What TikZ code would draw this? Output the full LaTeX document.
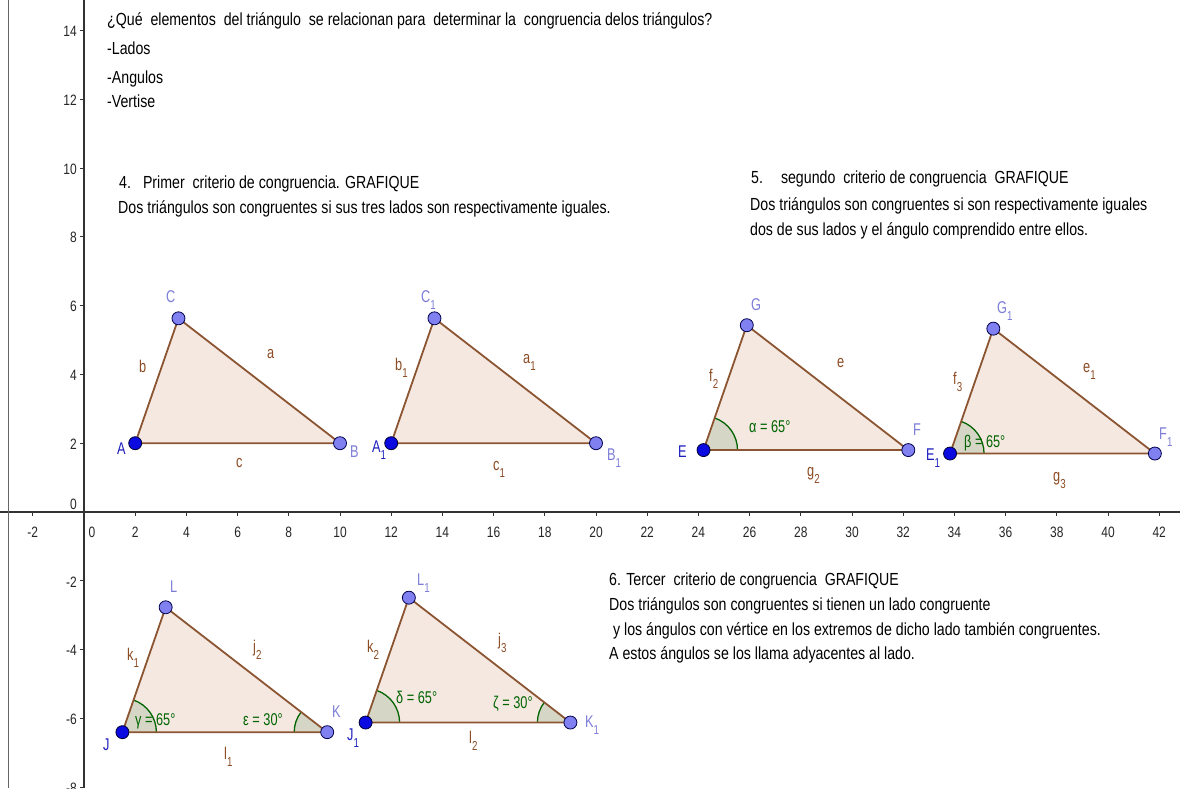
\documentclass[tikz,border=0pt]{standalone}
\usepackage{fontspec}
\setmainfont{Liberation Sans}[FakeStretch=0.81]
\newfontfamily\lblfont{Liberation Sans}[FakeStretch=0.75]
\newfontfamily\axfont{Liberation Sans}[FakeStretch=0.8]
\usetikzlibrary{calc}
\definecolor{edgecol}{RGB}{140,85,50}
\definecolor{tfill}{RGB}{244,232,225}
\definecolor{afill}{RGB}{214,214,198}
\definecolor{agreen}{RGB}{0,100,0}
\definecolor{ptdark}{RGB}{10,10,225}
\definecolor{ptlight}{RGB}{128,128,240}
\definecolor{lbdark}{RGB}{30,30,190}
\definecolor{lblight}{RGB}{125,125,215}
\definecolor{lbside}{RGB}{140,75,35}
\definecolor{axiscol}{RGB}{50,50,50}
\newcommand{\lsub}[1]{\raisebox{-0.42em}{\fontsize{13}{13}\selectfont #1}}
\tikzset{
  txt/.style={anchor=base west,inner sep=0pt,font=\fontsize{17.5}{20}\selectfont,text=black},
  lbl/.style={anchor=base west,inner sep=0pt,font=\lblfont\fontsize{17}{19}\selectfont},
  lbD/.style={lbl,text=lbdark},
  lbL/.style={lbl,text=lblight},
  lbS/.style={lbl,text=lbside},
  lbA/.style={lbl,text=agreen},
  axl/.style={inner sep=0pt,font=\axfont\fontsize{15}{17}\selectfont,text=black!85},
  ptD/.style={circle,inner sep=0pt,minimum size=13pt,fill=ptdark,draw=black!80!blue,line width=0.8pt},
  ptL/.style={circle,inner sep=0pt,minimum size=13pt,fill=ptlight,draw=black!70!blue,line width=0.8pt},
  tri/.style={draw=edgecol,line width=1.8pt,line join=round},
  sect/.style={fill=afill},
  arcline/.style={draw=agreen,line width=1.3pt}
}
\begin{document}
\begin{tikzpicture}[x=1pt,y=-1pt]
\useasboundingbox (0,0) rectangle (1180,788);
\clip (0,0) rectangle (1180,788);
\fill[white] (0,0) rectangle (1180,788);
% axes
\draw[axiscol,line width=1.3pt] (0,512) -- (1180,512);
\draw[axiscol,line width=1.3pt] (84,0) -- (84,788);
\draw[black!60,line width=1pt] (8,0) -- (8,788);
\foreach \x in {-2,2,4,...,42}{
  \draw[axiscol,line width=1pt] ({84+25.6*\x},512) -- ++(0,4);
  \node[axl] (xl\x) at ({84+25.6*\x},532) {\x};
}
\node[axl] (xl0) at (92,532) {0};
\foreach \y in {-8,-6,-4,-2,2,4,...,14}{
  \draw[axiscol,line width=1pt] (84,{512-34.4*\y}) -- ++(-4,0);
  \node[axl,anchor=east] (yl\y) at (77,{512-34.4*\y+1}) {\y};
}
\node[axl,anchor=east] (yl0) at (77,504) {0};

\begin{scope}[x=25.6pt,y=34.4pt,shift={(84pt,-512pt)}]
 \coordinate (A) at (2,2);  \coordinate (B) at (10,2);  \coordinate (C) at (3.69,5.63);
 \coordinate (A1) at (12,2); \coordinate (B1) at (20,2); \coordinate (C1) at (13.69,5.63);
 \coordinate (E) at (24.2,1.8); \coordinate (F) at (32.2,1.8); \coordinate (G) at (25.89,5.43);
 \coordinate (E1) at (33.83,1.7); \coordinate (F1) at (41.83,1.7); \coordinate (G1) at (35.52,5.33);
 \coordinate (J) at (1.5,-6.4); \coordinate (K) at (9.5,-6.4); \coordinate (L) at (3.19,-2.77);
 \coordinate (J1) at (11,-6.12); \coordinate (K1) at (19,-6.12); \coordinate (L1) at (12.69,-2.49);
 % triangle fills
 \fill[tfill] (A) -- (B) -- (C) -- cycle;
 \fill[tfill] (A1) -- (B1) -- (C1) -- cycle;
 \fill[tfill] (E) -- (F) -- (G) -- cycle;
 \fill[tfill] (E1) -- (F1) -- (G1) -- cycle;
 \fill[tfill] (J) -- (K) -- (L) -- cycle;
 \fill[tfill] (J1) -- (K1) -- (L1) -- cycle;
 % angle sectors
 \foreach \P in {E,E1,J,J1}{
   \fill[sect] (\P) -- ++(34pt,0pt) arc[start angle=0,end angle=70.9,radius=34pt] -- cycle;
   \draw[arcline] ($(\P)+(34pt,0pt)$) arc[start angle=0,end angle=70.9,radius=34pt];
 }
 \foreach \P in {K,K1}{
   \fill[sect] (\P) -- ++(-33pt,0pt) arc[start angle=180,end angle=142.3,radius=33pt] -- cycle;
   \draw[arcline] ($(\P)+(-33pt,0pt)$) arc[start angle=180,end angle=142.3,radius=33pt];
 }
 % edges
 \draw[tri] (A) -- (B) -- (C) -- cycle;
 \draw[tri] (A1) -- (B1) -- (C1) -- cycle;
 \draw[tri] (E) -- (F) -- (G) -- cycle;
 \draw[tri] (E1) -- (F1) -- (G1) -- cycle;
 \draw[tri] (J) -- (K) -- (L) -- cycle;
 \draw[tri] (J1) -- (K1) -- (L1) -- cycle;
 % points
 \foreach \P in {A,A1,E,E1,J,J1}{ \node[ptD] (p\P) at (\P) {}; }
 \foreach \P in {B,C,B1,C1,F,G,F1,G1,K,L,K1,L1}{ \node[ptL] (p\P) at (\P) {}; }
\end{scope}

% labels triangle 1
\node[lbD] (nA) at (117,454) {A};
\node[lbL] (nB) at (350,457) {B};
\node[lbL] (nC) at (166,302) {C};
\node[lbS] (nb) at (139,372) {b};
\node[lbS] (na) at (267,358) {a};
\node[lbS] (nc) at (236,467) {c};
% triangle 2
\node[lbL] (nC1) at (421,302) {C\lsub{1}};
\node[lbS] (nb1) at (395,370) {b\lsub{1}};
\node[lbS] (na1) at (523,363) {a\lsub{1}};
\node[lbD] (nA1) at (372,452) {A\lsub{1}};
\node[lbL] (nB1) at (607,460) {B\lsub{1}};
\node[lbS] (nc1) at (493,470) {c\lsub{1}};
% triangle 3
\node[lbL] (nG) at (751,310) {G};
\node[lbS] (nf2) at (709,381) {f\lsub{2}};
\node[lbS] (ne) at (837,367) {e};
\node[lbA] (nalpha) at (749,432) {α = 65°};
\node[lbL] (nF) at (913,435) {F};
\node[lbD] (nE) at (678,457) {E};
\node[lbS] (ng2) at (807,476) {g\lsub{2}};
% triangle 4
\node[lbL] (nG1) at (997,313) {G\lsub{1}};
\node[lbS] (nf3) at (953,384) {f\lsub{3}};
\node[lbS] (ne1) at (1083,372) {e\lsub{1}};
\node[lbA] (nbeta) at (964,447) {β = 65°};
\node[lbL] (nF1) at (1159,439) {F\lsub{1}};
\node[lbD] (nE1) at (926,460) {E\lsub{1}};
\node[lbS] (ng3) at (1053,481) {g\lsub{3}};
% triangle 5
\node[lbL] (nL) at (170,592) {L};
\node[lbS] (nk1) at (127,660) {k\lsub{1}};
\node[lbS] (nj2) at (253,652) {j\lsub{2}};
\node[lbA] (ngamma) at (135,725) {γ = 65°};
\node[lbA] (neps) at (243,725) {ε = 30°};
\node[lbL] (nK) at (332,717) {K};
\node[lbD] (nJ) at (103,750) {J};
\node[lbS] (nl1) at (224,759) {l\lsub{1}};
% triangle 6
\node[lbL] (nL1) at (417,585) {L\lsub{1}};
\node[lbS] (nk2) at (367,652) {k\lsub{2}};
\node[lbS] (nj3) at (498,645) {j\lsub{3}};
\node[lbA] (ndelta) at (396,703) {δ = 65°};
\node[lbA] (nzeta) at (493,708) {ζ = 30°};
\node[lbL] (nK1) at (585,727) {K\lsub{1}};
\node[lbD] (nJ1) at (347,740) {J\lsub{1}};
\node[lbS] (nl2) at (469,743) {l\lsub{2}};

% texts
\node[txt] (q0) at (107,25) {¿Qué\ \ elementos\ \ del triángulo\ \ se relacionan para\ \ determinar la\ \ congruencia delos triángulos?};
\node[txt] (q1) at (107,54) {-Lados};
\node[txt] (q2) at (107,83) {-Angulos};
\node[txt] (q3) at (107,107) {-Vertise};

\node[txt] (c4a) at (119,188) {4.\hspace{12pt}Primer\ \ criterio de congruencia. GRAFIQUE};
\node[txt] (c4b) at (118,213) {Dos triángulos son congruentes si sus tres lados son respectivamente iguales.};

\node[txt] (c5a) at (751,183) {5.\hspace{18pt}segundo\ \ criterio de congruencia\ \ GRAFIQUE};
\node[txt] (c5b) at (750,210) {Dos triángulos son congruentes si son respectivamente iguales};
\node[txt] (c5c) at (750,235) {dos de sus lados y el ángulo comprendido entre ellos.};

\node[txt] (c6a) at (609,585) {6. Tercer\ \ criterio de congruencia\ \ GRAFIQUE};
\node[txt] (c6b) at (609,610) {Dos triángulos son congruentes si tienen un lado congruente};
\node[txt] (c6c) at (609,635) {\ y los ángulos con vértice en los extremos de dicho lado también congruentes.};
\node[txt] (c6d) at (609,659) {A estos ángulos se los llama adyacentes al lado.};
\end{tikzpicture}
\end{document}
